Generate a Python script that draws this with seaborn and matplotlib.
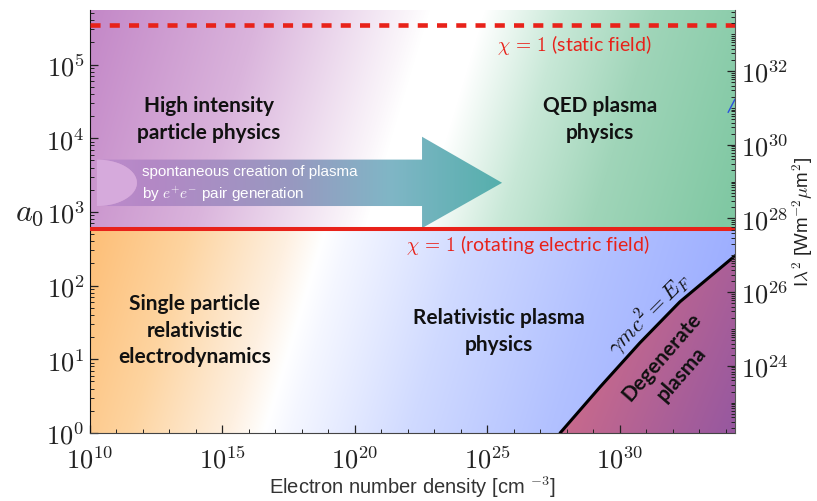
import numpy as np
import matplotlib
matplotlib.use('Agg')
import matplotlib.pyplot as plt
import seaborn as sns
from matplotlib.patches import Polygon
from matplotlib.ticker import FixedLocator, FuncFormatter, LogLocator, NullFormatter

sns.set_style('ticks')
plt.rcParams['font.family'] = ['Lato', 'DejaVu Sans']
plt.rcParams['mathtext.fontset'] = 'cm'

# ---- data ----
n_lim = [1e10, 10**34.34]          # electron density range [cm^-3]
a0_lim = [1.0, 10**5.74]           # normalised vector potential range
chi_rotating = 580.0               # chi = 1, rotating electric field
chi_static = 3.4e5                 # chi = 1, static field
intensity_factor = 1.5e22          # I lambda^2 = factor * a0^2  [W m^-2 um^2]

# gamma m c^2 = E_F boundary
curve_n = 10**np.array([27.74, 29.25, 30.75, 32.26, 34.34])
curve_a0 = 10**np.array([0.0, 0.625, 1.223, 1.780, 2.405])

# small blue segment at the right edge
blue_n = 10**np.array([34.08, 34.34])
blue_a0 = 10**np.array([4.35, 4.53])

# arrow (log10 of data values)
arrow_tail, arrow_notch, arrow_neck, arrow_tip = 10.26, 11.77, 22.53, 25.55
arrow_body = [3.08, 3.71]
arrow_head = [2.78, 4.02]

x_major = [1e10, 1e15, 1e20, 1e25, 1e30]
y_major = [1, 1e1, 1e2, 1e3, 1e4, 1e5]
y2_major = [1e24, 1e26, 1e28, 1e30, 1e32]

red = '#e8221a'

fig = plt.figure(figsize=(8.17, 5.02), dpi=100)
ax = fig.add_axes([90/817, 1 - 434/502, 645/817, 423/502])
ax.set_xscale('log')
ax.set_yscale('log')
ax.set_xlim(n_lim)
ax.set_ylim(a0_lim)
ax.autoscale(False)

# ---- background gradients (pixel grid of the axes) ----
W, H = 645, 423
px = np.arange(W)[None, :] + 0.5
py = np.arange(H)[:, None] + 0.5
ylog0, ylog1 = np.log10(a0_lim[0]), np.log10(a0_lim[1])
split = (ylog1 - np.log10(chi_rotating)) / (ylog1 - ylog0) * H


def ramp(u, stops, cols):
    cols = np.array(cols) / 255.0
    return np.stack([np.interp(u, stops, cols[:, k]) for k in range(3)], axis=-1)


u_up = px + 0.3 * py
upper = ramp(u_up, [0, 170, 320, 340, 395, 475, 565, 700],
             [(195, 135, 199), (218, 180, 220), (250, 245, 250), (255, 255, 255),
              (255, 255, 255), (200, 232, 215), (160, 213, 185), (128, 200, 163)])
u_lo = px + 0.3 * (py - split)
lower = ramp(u_lo, [0, 100, 200, 235, 260, 380, 520, 700],
             [(253, 190, 118), (253, 212, 160), (254, 240, 225), (255, 255, 255),
              (245, 247, 255), (208, 218, 255), (178, 193, 255), (150, 168, 255)])
bg = np.where((py < split)[..., None], upper, lower)
ax.imshow(bg, extent=[0, 1, 0, 1], transform=ax.transAxes, aspect='auto',
          zorder=0, interpolation='bilinear')

# degenerate region
t = ((px - 470) - 0.4 * (H - py)) / 175
deg = ramp(t, [0, 1], [(200, 106, 140), (150, 88, 160)])
deg_im = ax.imshow(deg, extent=[0, 1, 0, 1], transform=ax.transAxes, aspect='auto',
                   zorder=0.5, interpolation='bilinear')
deg_verts = list(zip(curve_n, curve_a0)) + [(n_lim[1], a0_lim[0]), (curve_n[0], a0_lim[0])]
deg_patch = Polygon(deg_verts, closed=True, facecolor='none', edgecolor='none',
                    transform=ax.transData)
ax.add_patch(deg_patch)
deg_im.set_clip_path(deg_patch)

# arrow with elliptical notch
mid = 0.5 * (arrow_body[0] + arrow_body[1])
ry = 0.5 * (arrow_body[1] - arrow_body[0])
theta = np.linspace(-np.pi / 2, np.pi / 2, 40)
notch_x = arrow_tail + (arrow_notch - arrow_tail) * np.cos(theta)
notch_y = mid + ry * np.sin(theta)
outline = [(arrow_tail, arrow_body[1]), (arrow_neck, arrow_body[1]), (arrow_neck, arrow_head[1]),
           (arrow_tip, mid), (arrow_neck, arrow_head[0]), (arrow_neck, arrow_body[0]),
           (arrow_tail, arrow_body[0])] + list(zip(notch_x, notch_y))
arrow_verts = [(10**a, 10**b) for a, b in outline]
arrow_patch = Polygon(arrow_verts, closed=True, facecolor='none', edgecolor='none',
                      transform=ax.transData)
ax.add_patch(arrow_patch)
arr = ramp(px + 0 * py, [0, 60, 200, 300, 412],
           [(190, 140, 205), (180, 136, 198), (152, 152, 192), (128, 182, 198), (85, 175, 172)])
arr_im = ax.imshow(arr, extent=[0, 1, 0, 1], transform=ax.transAxes, aspect='auto',
                   zorder=1, interpolation='bilinear')
arr_im.set_clip_path(arrow_patch)
notch_verts = [(10**a, 10**b) for a, b in zip(notch_x, notch_y)]
ax.add_patch(Polygon(notch_verts, closed=True, facecolor='#d6aadc', edgecolor='none',
                     transform=ax.transData, zorder=1))

# ---- lines ----
ax.axhline(chi_rotating, color=red, lw=2.9, zorder=3)
ax.axhline(chi_static, color=red, lw=3.3, ls=(0, (2.2, 2.0)), zorder=3)
sns.lineplot(x=curve_n, y=curve_a0, ax=ax, color='black', lw=2.2, zorder=3)
sns.lineplot(x=blue_n, y=blue_a0, ax=ax, color='#2a4ee0', lw=1.0, zorder=3)

# ---- text ----
lab = dict(ha='center', va='center', fontsize=15, fontweight='bold', color='#111111',
           linespacing=1.4, zorder=4)
ax.text(10**14.49, 10**4.27, 'High intensity\nparticle physics', **lab)
ax.text(10**29.25, 10**4.27, 'QED plasma\nphysics', **lab)
ax.text(10**13.96, 10**1.40, 'Single particle\nrelativistic\nelectrodynamics', **lab)
ax.text(10**25.43, 10**1.39, 'Relativistic plasma\nphysics', **lab)
ax.text(10**31.95, 10**0.93, 'Degenerate\nplasma', rotation=49, **lab)

ax.text(10**28.26, 10**5.285, r'$\chi\, =\, 1$ (static field)', ha='center', va='center',
        fontsize=14, color=red, zorder=4)
ax.text(10**26.53, 10**2.57, r'$\chi\, =\, 1$ (rotating electric field)', ha='center',
        va='center', fontsize=14, color=red, zorder=4)
ax.text(10**31.1, 10**1.62, r'$\gamma mc^2 = E_F$', ha='center', va='center', fontsize=16,
        rotation=45, color='#111111', zorder=4)

arr_txt = dict(ha='left', va='center', fontsize=11, color='white', zorder=4,
               family=['Liberation Sans', 'DejaVu Sans'])
ax.text(10**11.96, 10**3.55, 'spontaneous creation of plasma', **arr_txt)
ax.text(10**11.96, 10**3.25, r'by $e^{+}e^{-}$ pair generation', **arr_txt)

# ---- axes, ticks ----
tick_fmt = FuncFormatter(lambda v, p: r'$10^{%d}$' % round(np.log10(v)))
ax.xaxis.set_major_locator(FixedLocator(x_major))
ax.xaxis.set_minor_locator(FixedLocator(10.0**np.arange(10, 35)))
ax.xaxis.set_major_formatter(tick_fmt)
ax.xaxis.set_minor_formatter(NullFormatter())
ax.yaxis.set_major_locator(FixedLocator(y_major))
ax.yaxis.set_minor_locator(LogLocator(base=10, subs=np.arange(2, 10), numticks=50))
ax.yaxis.set_major_formatter(tick_fmt)
ax.yaxis.set_minor_formatter(NullFormatter())
ax.tick_params(which='both', direction='in', top=False, right=False, labelsize=19,
               colors='#222222')
ax.tick_params(which='major', length=6, width=0.9)
ax.tick_params(which='minor', length=3, width=0.7)
ax.tick_params(axis='x', which='major', pad=9)
ax.tick_params(axis='y', which='major', pad=4)
ax.spines['top'].set_visible(False)
ax.spines['right'].set_visible(False)
ax.spines['left'].set_color('#111111')
ax.spines['bottom'].set_color('#444444')

ax.set_xlabel('Electron number density [cm $^{\\mathsf{-3}}$]', fontsize=14.5, color='#333333',
              family=['Liberation Sans', 'DejaVu Sans'])
ax.xaxis.set_label_coords(0.5, -0.127)
ax.xaxis.label.set_va('center')
ax.set_ylabel(r'$a_0$', fontsize=23, rotation=0, ha='center', va='center')
ax.yaxis.set_label_coords(-0.093, 0.522)

ax2 = ax.twinx()
ax2.set_yscale('log')
ax2.set_ylim(intensity_factor * a0_lim[0]**2, intensity_factor * a0_lim[1]**2)
ax2.yaxis.set_major_locator(FixedLocator(y2_major))
ax2.yaxis.set_minor_locator(LogLocator(base=10, subs=np.arange(1, 10), numticks=80))
ax2.yaxis.set_major_formatter(tick_fmt)
ax2.yaxis.set_minor_formatter(NullFormatter())
ax2.tick_params(which='both', direction='in', labelsize=19, colors='#222222')
ax2.tick_params(which='major', length=6, width=0.9, pad=4)
ax2.tick_params(which='minor', length=3, width=0.7)
for s in ['top', 'left', 'bottom']:
    ax2.spines[s].set_visible(False)
ax2.spines['right'].set_color('#555555')
ax2.set_ylabel(r'I$\lambda^{\mathsf{2}}$ [Wm$^{\mathsf{-2}}\mu$m$^{\mathsf{2}}$]', fontsize=13.5,
               color='#222222', family=['Liberation Sans', 'DejaVu Sans'])
ax2.yaxis.set_label_coords(1.085, 0.5)

fig.savefig('out.png', dpi=100)
